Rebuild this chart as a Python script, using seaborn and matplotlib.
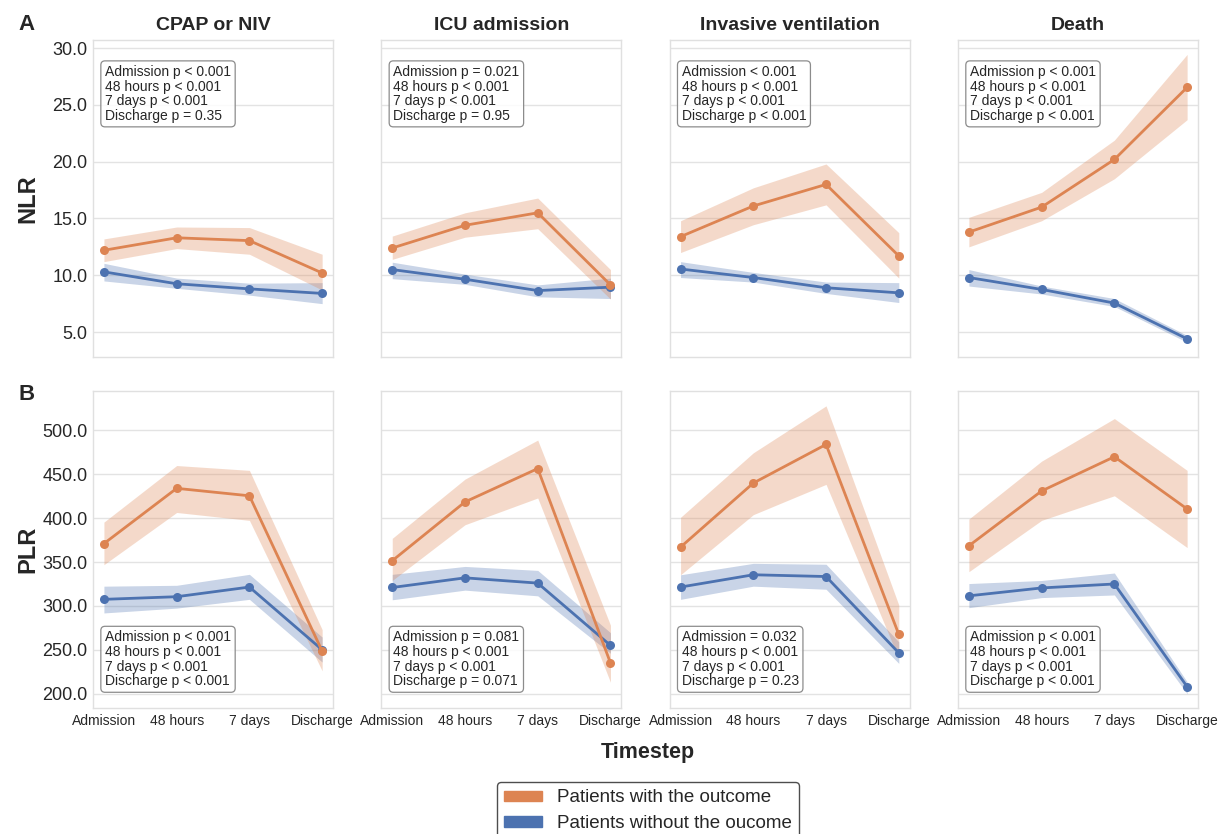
import numpy as np
import pandas as pd
import matplotlib
matplotlib.use("Agg")
import matplotlib.pyplot as plt
from matplotlib.patches import Patch
from matplotlib.ticker import MultipleLocator, FormatStrFormatter
import seaborn as sns

# ---------------- data ----------------
timesteps = ["Admission", "48 hours", "7 days", "Discharge"]
outcomes = ["CPAP or NIV", "ICU admission", "Invasive ventilation", "Death"]
group_with = "Patients with the outcome"
group_without = "Patients without the oucome"

# NLR, patients with the outcome (one list per outcome panel)
nlr_with_mean = [[12.2, 13.3, 13.05, 10.2], [12.4, 14.4, 15.5, 9.15],
                 [13.4, 16.1, 18.0, 11.7], [13.8, 16.0, 20.2, 26.55]]
nlr_with_lo = [[11.2, 12.35, 11.85, 8.7], [11.4, 13.35, 14.1, 7.9],
               [12.0, 14.45, 16.2, 9.75], [12.5, 14.8, 18.5, 23.7]]
nlr_with_hi = [[13.2, 14.25, 14.2, 11.85], [13.45, 15.5, 16.8, 10.5],
               [14.8, 17.7, 19.8, 13.75], [15.1, 17.3, 21.9, 29.45]]
# NLR, patients without the outcome
nlr_without_mean = [[10.3, 9.25, 8.8, 8.4], [10.5, 9.65, 8.65, 8.95],
                    [10.55, 9.8, 8.9, 8.45], [9.8, 8.75, 7.55, 4.4]]
nlr_without_lo = [[9.5, 8.85, 8.25, 7.5], [9.7, 9.2, 8.1, 7.95],
                  [9.8, 9.4, 8.4, 7.6], [9.05, 8.35, 7.25, 4.1]]
nlr_without_hi = [[11.05, 9.75, 9.3, 9.35], [11.15, 10.1, 9.15, 9.75],
                  [11.2, 10.25, 9.4, 9.35], [10.5, 9.05, 7.95, 4.7]]

# PLR, patients with the outcome
plr_with_mean = [[371, 434, 425.5, 248.5], [351.5, 418.5, 456.5, 235],
                 [367, 440, 484, 267.5], [368.5, 431, 470, 410.5]]
plr_with_lo = [[347, 406.5, 397.5, 226], [329, 392.5, 423, 213],
               [335.5, 404, 438.5, 240], [339, 397.5, 425.5, 366.5]]
plr_with_hi = [[395.5, 460, 454.5, 273], [377, 444.5, 489, 278],
               [401, 474.5, 528, 301], [399, 465, 513.5, 454.5]]
# PLR, patients without the outcome
plr_without_mean = [[307.5, 310.5, 321.5, 250], [321, 332, 326, 255],
                    [321.5, 335.5, 333.5, 246.5], [311.5, 320.5, 325, 208]]
plr_without_lo = [[292, 297.5, 307.5, 236], [307, 318, 311.5, 246],
                  [307.5, 322.5, 319, 234.5], [298, 309.5, 312.5, 200]]
plr_without_hi = [[322.5, 323.5, 336, 264.5], [336, 345, 340.5, 269.5],
                  [335.5, 348.5, 347.5, 259], [325.5, 329, 337.5, 213.5]]

nlr_pvals = [
    "Admission p < 0.001\n48 hours p < 0.001\n7 days p < 0.001\nDischarge p = 0.35",
    "Admission p = 0.021\n48 hours p < 0.001\n7 days p < 0.001\nDischarge p = 0.95",
    "Admission < 0.001\n48 hours p < 0.001\n7 days p < 0.001\nDischarge p < 0.001",
    "Admission p < 0.001\n48 hours p < 0.001\n7 days p < 0.001\nDischarge p < 0.001",
]
plr_pvals = [
    "Admission p < 0.001\n48 hours p < 0.001\n7 days p < 0.001\nDischarge p < 0.001",
    "Admission p = 0.081\n48 hours p < 0.001\n7 days p < 0.001\nDischarge p = 0.071",
    "Admission = 0.032\n48 hours p < 0.001\n7 days p < 0.001\nDischarge p = 0.23",
    "Admission p < 0.001\n48 hours p < 0.001\n7 days p < 0.001\nDischarge p < 0.001",
]

metrics = ["NLR", "PLR"]
series = {
    ("NLR", group_with): (nlr_with_lo, nlr_with_mean, nlr_with_hi),
    ("NLR", group_without): (nlr_without_lo, nlr_without_mean, nlr_without_hi),
    ("PLR", group_with): (plr_with_lo, plr_with_mean, plr_with_hi),
    ("PLR", group_without): (plr_without_lo, plr_without_mean, plr_without_hi),
}

rows = []
for (metric, group), (lo, mid, hi) in series.items():
    for oi, outcome in enumerate(outcomes):
        for ti, ts in enumerate(timesteps):
            for v in (lo[oi][ti], mid[oi][ti], hi[oi][ti]):
                rows.append(dict(Metric=metric, Outcome=outcome, Group=group,
                                 Timestep=ts, Value=v))
df = pd.DataFrame(rows)
df["Timestep"] = pd.Categorical(df["Timestep"], categories=timesteps, ordered=True)

# ---------------- style ----------------
sns.set_theme(style="whitegrid", rc={"axes.edgecolor": "0.88", "grid.color": "0.89",
                                     "axes.linewidth": 1.0, "grid.linewidth": 1.0})
plt.rcParams["font.family"] = ["Liberation Sans", "DejaVu Sans"]

orange = "#dd8452"
blue = "#4c72b0"
palette = {group_with: orange, group_without: blue}

fig, axes = plt.subplots(2, 4, figsize=(12.19, 8.34), dpi=100,
                         sharex=True, sharey="row")
fig.subplots_adjust(left=0.0763, right=0.9828, top=0.952, bottom=0.151,
                    wspace=0.201, hspace=0.11)

for r, metric in enumerate(metrics):
    for c, outcome in enumerate(outcomes):
        ax = axes[r, c]
        sub = df[(df.Metric == metric) & (df.Outcome == outcome)]
        sns.lineplot(data=sub, x="Timestep", y="Value", hue="Group",
                     hue_order=[group_without, group_with], palette=palette,
                     estimator="median",
                     errorbar=lambda v: (v.min(), v.max()),
                     marker="o", markersize=6.5, markeredgewidth=0,
                     linewidth=2, err_kws={"alpha": 0.3, "linewidth": 0},
                     legend=False, ax=ax)
        ax.set_xlabel("")
        ax.set_ylabel("")
        ax.tick_params(axis="both", length=0)
        ax.tick_params(axis="y", labelsize=13, pad=4)
        ax.tick_params(axis="x", labelsize=10, pad=4)
        ax.grid(axis="x", visible=False)
        if r == 0:
            ax.set_title(outcome, fontsize=14, fontweight="bold", pad=7)
            ax.text(0.05, 0.921, nlr_pvals[c], transform=ax.transAxes,
                    ha="left", va="top", fontsize=10, linespacing=1.05, zorder=10,
                    bbox=dict(boxstyle="round,pad=0.3", fc=(1, 1, 1, 0.85),
                              ec="0.55", lw=0.9))
        else:
            ax.text(0.05, 0.063, plr_pvals[c], transform=ax.transAxes,
                    ha="left", va="bottom", fontsize=10, linespacing=1.05, zorder=10,
                    bbox=dict(boxstyle="round,pad=0.3", fc=(1, 1, 1, 0.85),
                              ec="0.55", lw=0.9))

axes[0, 0].yaxis.set_major_locator(MultipleLocator(5))
axes[1, 0].yaxis.set_major_locator(MultipleLocator(50))
for r in range(2):
    axes[r, 0].yaxis.set_major_formatter(FormatStrFormatter("%.1f"))
    axes[r, 0].set_ylabel(metrics[r], fontsize=17, fontweight="bold")
    axes[r, 0].yaxis.set_label_coords(-0.225, 0.5)

fig.text(18 / 1219, 1 - 30 / 834, "A", fontsize=16, fontweight="bold", va="baseline")
fig.text(18 / 1219, 1 - 400 / 834, "B", fontsize=16, fontweight="bold", va="baseline")
fig.text(0.5316, 1 - 758 / 834, "Timestep", fontsize=15.5, fontweight="bold",
         ha="center", va="baseline")

handles = [Patch(color=orange, label=group_with),
           Patch(color=blue, label=group_without)]
leg = fig.legend(handles=handles, loc="upper center",
                 bbox_to_anchor=(0.5316, 1 - 782 / 834), fontsize=13.5,
                 frameon=True, fancybox=True, framealpha=1, edgecolor="0.3",
                 handlelength=2.0, handleheight=0.5, handletextpad=0.8,
                 labelspacing=0.45, borderpad=0.4, borderaxespad=0)

fig.savefig("out.png", dpi=100)
